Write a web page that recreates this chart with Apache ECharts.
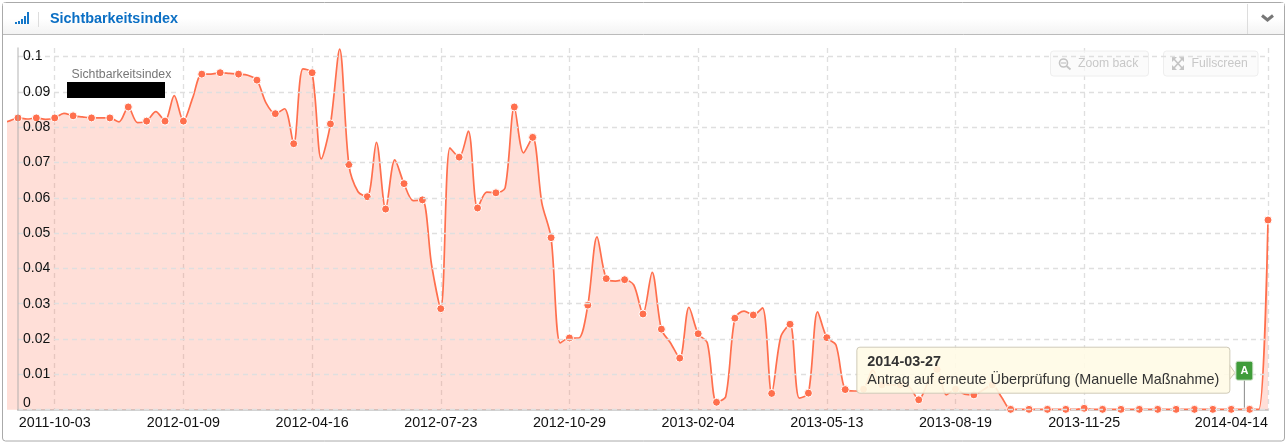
<!DOCTYPE html>
<html><head><meta charset="utf-8">
<style>html,body{margin:0;padding:0;background:#fff}#c{width:1288px;height:444px}</style>
<script src="https://cdn.jsdelivr.net/npm/echarts@6/dist/echarts.min.js"></script>
</head><body><div id="c"></div>
<script>
const firstWeek = [2011, 8, 22];
const leadValues = [0.0812, 0.0817];
// every second week carries a marker
const markerValues = [0.0826,0.0826,0.0826,0.0832,0.0826,0.0826,0.0857,0.0817,0.0817,0.0817,0.0950,0.0954,0.0950,0.0933,0.0838,0.0753,0.0954,0.0809,0.0694,0.0603,0.0568,0.0640,0.0594,0.0286,0.0715,0.0571,0.0614,0.0857,0.0771,0.0487,0.0203,0.0296,0.0371,0.0368,0.0271,0.0228,0.0146,0.0215,0.0021,0.0259,0.0268,0.0046,0.0242,0.0047,0.0204,0.0057,0.0058,0.0070,0.0070,0.0028,0.0114,0.0058,0.0042,0.0070,0.0001,0.0001,0.0001,0.0001,0.0004,0.0001,0.0001,0.0001,0.0001,0.0001,0.0001,0.0001,0.0001,0.0001,0.0537];
const betweenValues = [0.0823,0.0822,0.0839,0.0829,0.0826,0.0815,0.0813,0.0844,0.0889,0.0882,0.0950,0.0952,0.0947,0.0868,0.0852,0.0965,0.0710,0.1021,0.0617,0.0757,0.0707,0.0592,0.0410,0.0741,0.0789,0.0616,0.0628,0.0727,0.0585,0.0189,0.0203,0.0489,0.0364,0.0353,0.0389,0.0189,0.0290,0.0189,0.0037,0.0279,0.0288,0.0207,0.0033,0.0277,0.0183,0.0053,0.0112,0.0070,0.0064,0.0076,0.0042,0.0044,0.0056,0.0036,0.0001,0.0001,0.0001,0.0001,0.0001,0.0001,0.0001,0.0001,0.0001,0.0001,0.0001,0.0001,0.0001,0.0001];
const xTickLabels = ['2011-10-03','2012-01-09','2012-04-16','2012-07-23','2012-10-29','2013-02-04','2013-05-13','2013-08-19','2013-11-25','2014-04-14'];
const yTicks = [0,0.01,0.02,0.03,0.04,0.05,0.06,0.07,0.08,0.09,0.1];
const flagDate = '2014-03-27';
const flagLetter = 'A';
const flagText = 'Antrag auf erneute Überprüfung (Manuelle Maßnahme)';
const seriesName = 'Sichtbarkeitsindex';

const FONT = '"Liberation Sans", Arial, sans-serif';
const ORANGE = '#ff6f4d';
const dayMs = d => { const p = d.split('-').map(Number); return new Date(p[0], p[1]-1, p[2]).getTime(); };

const points = [];
const allValues = leadValues.slice();
markerValues.forEach((v,i)=>{ allValues.push(v); if(i<betweenValues.length) allValues.push(betweenValues[i]); });
allValues.forEach((v,i)=>{
  const d = new Date(firstWeek[0], firstWeek[1]-1, firstWeek[2]+7*i, 0,0,0);
  const marked = i>=leadValues.length && (i-leadValues.length)%2===0;
  points.push({value:[d.getTime(), v], symbolSize: marked?8:0});
});

const yMax = 0.10240;
const xMin = new Date(2011,7,28,10,0,0).getTime();
const xMax = dayMs('2014-04-14');
const tickMs = xTickLabels.map(dayMs);
const GRID_TOP = 48, GRID_BOTTOM = 34.3, GRID_RIGHT = 20;

function annotation(params, api){
  const p = api.coord([api.value(0), 0]);
  const x = p[0], y = p[1];
  return {type:'group', children:[
    {type:'line', shape:{x1:x,y1:y-30,x2:x,y2:y-2}, style:{stroke:'#888',lineWidth:1}},
    {type:'polygon', shape:{points:[[x-15,y-45],[x-9.5,y-37],[x-15,y-30]]}, style:{fill:'#fffbe6',stroke:'#cfc9b0',lineWidth:1}},
    {type:'rect', shape:{x:x-387.5,y:y-62.5,width:373,height:46,r:3}, style:{fill:'rgba(255,251,230,0.9)',stroke:'#cfcab8',lineWidth:1}},
    {type:'text', x:x-377, y:y-47.5, style:{text:flagDate,font:'bold 14.4px '+FONT,fill:'#333',textVerticalAlign:'middle'}},
    {type:'text', x:x-377, y:y-29.5, style:{text:flagText,font:'14.4px '+FONT,fill:'#333',textVerticalAlign:'middle'}},
    {type:'rect', shape:{x:x-8.5,y:y-48.5,width:17,height:19,r:2}, style:{fill:'#3f9c3a',stroke:'#d8e6d4',lineWidth:1}},
    {type:'text', x:x, y:y-39, style:{text:flagLetter,font:'bold 11px '+FONT,fill:'#fff',textAlign:'center',textVerticalAlign:'middle'}}
  ]};
}

const bars = [[15,2],[18,3],[21,5],[24,8],[27,12]];
const graphics = [
  {type:'rect', z:0, shape:{x:2.5,y:2.5,width:1282,height:438.5,r:3}, style:{fill:'#fff',stroke:'#aaa',lineWidth:1}},
  {type:'rect', z:0, shape:{x:3,y:3,width:1281,height:31}, style:{fill:{type:'linear',x:0,y:0,x2:0,y2:1,colorStops:[{offset:0,color:'#ffffff'},{offset:0.5,color:'#ffffff'},{offset:1,color:'#f3f3f3'}]}}},
  {type:'line', z:0, shape:{x1:3,y1:34.5,x2:1284,y2:34.5}, style:{stroke:'#bbb',lineWidth:1}},
  {type:'line', z:0, shape:{x1:38.5,y1:12,x2:38.5,y2:27}, style:{stroke:'#ddd',lineWidth:1}},
  {type:'line', z:0, shape:{x1:1247.5,y1:4,x2:1247.5,y2:34}, style:{stroke:'#ddd',lineWidth:1}},
  {type:'polyline', z:0, shape:{points:[[1262,15.5],[1267.5,20],[1273,15.5]]}, style:{stroke:'#777',lineWidth:3,fill:'none'}},
  {type:'text', z:1, x:50, y:19, style:{text:seriesName,font:'bold 14.4px '+FONT,fill:'#0b6fc4',textVerticalAlign:'middle'}},
  {type:'text', z:6, x:71.5, y:75, style:{text:seriesName,font:'12.3px '+FONT,fill:'#777',textVerticalAlign:'middle'}},
  {type:'rect', z:6, shape:{x:67,y:82,width:98,height:16}, style:{fill:'#000'}},
  {type:'rect', z:1, shape:{x:1050.5,y:51,width:98,height:25,r:3}, style:{fill:'rgba(250,250,250,0.7)',stroke:'#eee',lineWidth:1}},
  {type:'rect', z:1, shape:{x:1163.5,y:51,width:94.5,height:25,r:3}, style:{fill:'rgba(250,250,250,0.7)',stroke:'#eee',lineWidth:1}},
  {type:'text', z:2, x:1078, y:64, style:{text:'Zoom back',font:'12.2px '+FONT,fill:'#c8c8c8',textVerticalAlign:'middle'}},
  {type:'text', z:2, x:1191.5, y:64, style:{text:'Fullscreen',font:'12.2px '+FONT,fill:'#c8c8c8',textVerticalAlign:'middle'}},
  {type:'circle', z:2, shape:{cx:1063.5,cy:63,r:4}, style:{fill:'none',stroke:'#c4c4c4',lineWidth:1.6}},
  {type:'line', z:2, shape:{x1:1066.5,y1:66,x2:1070.5,y2:69.5}, style:{stroke:'#c4c4c4',lineWidth:1.8}},
  {type:'line', z:2, shape:{x1:1061,y1:63,x2:1066,y2:63}, style:{stroke:'#c4c4c4',lineWidth:1.2}},
  {type:'polygon', z:2, shape:{points:[[1172,57],[1177,57],[1172,62]]}, style:{fill:'#c4c4c4'}},
  {type:'polygon', z:2, shape:{points:[[1184,57],[1179,57],[1184,62]]}, style:{fill:'#c4c4c4'}},
  {type:'polygon', z:2, shape:{points:[[1172,70],[1177,70],[1172,65]]}, style:{fill:'#c4c4c4'}},
  {type:'polygon', z:2, shape:{points:[[1184,70],[1179,70],[1184,65]]}, style:{fill:'#c4c4c4'}},
  {type:'line', z:2, shape:{x1:1173,y1:58,x2:1183,y2:69}, style:{stroke:'#c4c4c4',lineWidth:1.6}},
  {type:'line', z:2, shape:{x1:1183,y1:58,x2:1173,y2:69}, style:{stroke:'#c4c4c4',lineWidth:1.6}}
].concat(bars.map(b=>({type:'rect', z:1, shape:{x:b[0],y:24-b[1],width:2,height:b[1]}, style:{fill:'#1477c9'}})));

const chart = echarts.init(document.getElementById('c'), null, {renderer:'canvas'});
chart.setOption({
  animation:false,
  backgroundColor:'#fff',
  textStyle:{fontFamily:FONT},
  graphic:{elements:graphics},
  tooltip:{show:false},
  grid:[
    {left:8, right:GRID_RIGHT, top:GRID_TOP, bottom:GRID_BOTTOM, containLabel:false},
    {left:18, right:GRID_RIGHT, top:GRID_TOP, bottom:GRID_BOTTOM, containLabel:false}
  ],
  xAxis:[
    {type:'value', gridIndex:0, min:xMin, max:xMax, scale:true,
     axisLine:{show:false},
     axisTick:{show:false, customValues:tickMs},
     axisLabel:{customValues:tickMs, margin:6, fontSize:14.3, color:'#111', fontFamily:FONT, alignMaxLabel:'right',
       hideOverlap:false, showMinLabel:true, showMaxLabel:true,
       formatter:v=>xTickLabels[tickMs.indexOf(v)]||''},
     splitLine:{show:true, lineStyle:{color:'#dfdfdf', type:[5,4], width:1.3}}},
    {type:'value', gridIndex:1, min:0, max:1, axisLine:{show:true,lineStyle:{color:'#cfcfcf',width:2}}, axisTick:{show:false}, axisLabel:{show:false}, splitLine:{show:false}}
  ],
  yAxis:[
    {type:'value', gridIndex:0, min:0, max:yMax, show:false, splitLine:{show:false}},
    {type:'value', gridIndex:1, min:0, max:yMax, z:5,
     axisLine:{show:true, lineStyle:{color:'rgba(170,170,170,0.6)',width:1.5}},
     axisTick:{show:false, customValues:yTicks},
     axisLabel:{customValues:yTicks, inside:true, margin:5, fontSize:14, color:'#111', fontFamily:FONT, verticalAlignMinLabel:'bottom',
       formatter:v=>String(v)},
     splitLine:{show:true, lineStyle:{color:'#dfdfdf', type:[5,4], width:1.3}}}
  ],
  series:[
    {type:'line', name:seriesName, xAxisIndex:0, yAxisIndex:0, data:points, smooth:0.3, z:3,
     showSymbol:true, showAllSymbol:true, symbol:'circle', clip:true,
     lineStyle:{color:ORANGE,width:1.7},
     itemStyle:{color:ORANGE,borderColor:'#fff',borderWidth:1},
     areaStyle:{color:'#ff6f4d',opacity:0.22},
     emphasis:{disabled:true}, silent:true},
    {type:'custom', xAxisIndex:0, yAxisIndex:0, data:[[dayMs(flagDate),0]], encode:{x:0,y:1}, renderItem:annotation, z:10, clip:false, silent:true}
  ]
});
</script></body></html>
